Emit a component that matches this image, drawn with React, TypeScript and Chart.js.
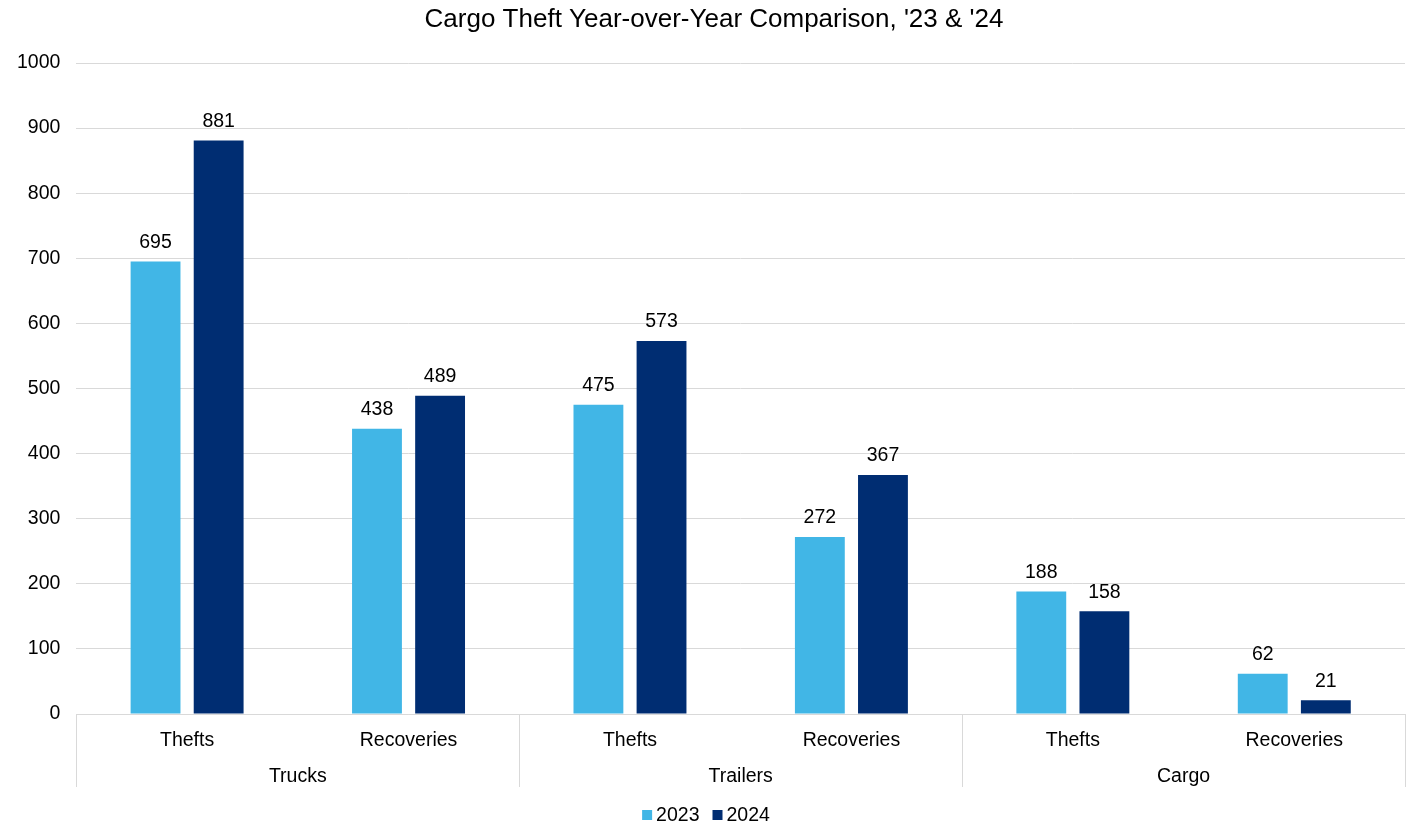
import React, { useEffect, useRef } from "react";
import { Chart, registerables } from "chart.js";

Chart.register(...registerables);

const titleText = "Cargo Theft Year-over-Year Comparison, '23 & '24";
const categories = ["Thefts", "Recoveries", "Thefts", "Recoveries", "Thefts", "Recoveries"];
const groups = ["Trucks", "Trailers", "Cargo"];
const groupSizes = [2, 2, 2];
const seriesNames = ["2023", "2024"];
const seriesColors = ["#41B6E6", "#002D72"];
const series2023 = [695, 438, 475, 272, 188, 62];
const series2024 = [881, 489, 573, 367, 158, 21];
const yTicksMax = 1000;
const yTicksStep = 100;

const FONT = "'Liberation Sans', Arial, sans-serif";
const FS = 19.5;
const GRID = "#d9d9d9";

const groupPlugin = {
  id: "groupAxis",
  afterDraw(chart: any) {
    const { ctx, chartArea } = chart;
    const xs = chart.scales.x;
    const n = categories.length;
    const catW = (chartArea.right - chartArea.left) / n;
    const base = chartArea.bottom;
    ctx.save();
    // title
    ctx.fillStyle = "#000";
    ctx.font = `26px ${FONT}`;
    ctx.textAlign = "center";
    ctx.textBaseline = "middle";
    ctx.fillText(titleText, 714, 20);

    ctx.strokeStyle = GRID;
    ctx.lineWidth = 1;
    let idx = 0;
    const bounds: number[] = [];
    groupSizes.forEach((size) => {
      const left = xs.getPixelForValue(idx) - catW / 2;
      const right = xs.getPixelForValue(idx + size - 1) + catW / 2;
      bounds.push(left, right);
      idx += size;
    });
    const uniq = Array.from(new Set(bounds.map((b) => Math.round(b))));
    uniq.forEach((b) => {
      ctx.beginPath();
      ctx.moveTo(b + 0.5, base);
      ctx.lineTo(b + 0.5, base + 73);
      ctx.stroke();
    });
    ctx.font = `${FS}px ${FONT}`;
    idx = 0;
    groups.forEach((g, i) => {
      const size = groupSizes[i];
      const c = (xs.getPixelForValue(idx) + xs.getPixelForValue(idx + size - 1)) / 2;
      ctx.fillText(g, c, base + 63);
      idx += size;
    });
    // data labels
    chart.data.datasets.forEach((ds: any, di: number) => {
      const meta = chart.getDatasetMeta(di);
      meta.data.forEach((bar: any, i: number) => {
        ctx.fillText(String(ds.data[i]), bar.x, bar.y - 19);
      });
    });
    // legend
    const box = 10;
    const gapText = 4;
    const gapItem = 13;
    const widths = seriesNames.map((s) => ctx.measureText(s).width);
    const total =
      widths.reduce((a, w) => a + box + gapText + w, 0) + gapItem * (seriesNames.length - 1);
    let x = 706 - total / 2;
    const ly = 815;
    ctx.textAlign = "left";
    seriesNames.forEach((s, i) => {
      ctx.fillStyle = seriesColors[i];
      ctx.fillRect(x, ly - box / 2, box, box);
      x += box + gapText;
      ctx.fillStyle = "#000";
      ctx.fillText(s, x, ly + 1);
      x += widths[i] + gapItem;
    });
    ctx.restore();
  },
};

export default function App() {
  const ref = useRef<HTMLCanvasElement | null>(null);
  useEffect(() => {
    if (!ref.current) return;
    const chart = new Chart(ref.current, {
      type: "bar",
      data: {
        labels: categories,
        datasets: [
          {
            label: seriesNames[0],
            data: series2023,
            backgroundColor: seriesColors[0],
            barPercentage: 0.79,
            categoryPercentage: 0.57,
          },
          {
            label: seriesNames[1],
            data: series2024,
            backgroundColor: seriesColors[1],
            barPercentage: 0.79,
            categoryPercentage: 0.57,
          },
        ],
      },
      options: {
        animation: false,
        responsive: true,
        maintainAspectRatio: false,
        layout: { padding: { left: 1, right: 3, bottom: 35, top: 63 } },
        plugins: {
          title: { display: false },
          legend: { display: false },
          tooltip: { enabled: false },
        },
        scales: {
          x: {
            grid: { display: false, drawTicks: false },
            border: { display: true, color: GRID },
            ticks: {
              color: "#000",
              font: { family: FONT, size: FS },
              padding: 15,
              maxRotation: 0,
            },
            afterFit(scale: any) {
              scale.height = 76;
            },
          },
          y: {
            min: 0,
            max: yTicksMax,
            grid: { color: GRID, drawTicks: false },
            border: { display: false },
            ticks: {
              stepSize: yTicksStep,
              color: "#000",
              font: { family: FONT, size: FS },
              padding: 16,
              callback: (v: any) => String(v),
            },
          },
        },
      },
      plugins: [groupPlugin],
    });
    return () => chart.destroy();
  }, []);
  return (
    <div style={{ position: "fixed", left: 0, top: 0, width: 1408, height: 825 }}>
      <canvas ref={ref} />
    </div>
  );
}
